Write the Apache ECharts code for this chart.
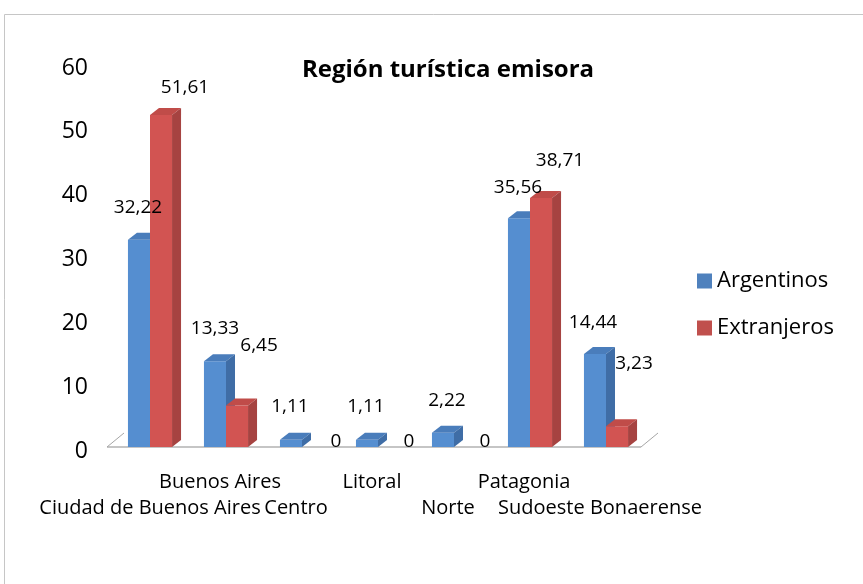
<!DOCTYPE html>
<html>
<head>
<meta charset="utf-8">
<script src="https://cdn.jsdelivr.net/npm/echarts@6/dist/echarts.min.js"></script>
<style>
html,body{margin:0;padding:0;background:#fff;}
#c{width:863px;height:584px;}
</style>
</head>
<body>
<div id="c"></div>
<script>
// ---- data ----
const categories = ['Ciudad de Buenos Aires', 'Buenos Aires', 'Centro', 'Litoral', 'Norte', 'Patagonia', 'Sudoeste Bonaerense'];
const argentinos = [32.22, 13.33, 1.11, 1.11, 2.22, 35.56, 14.44];
const extranjeros = [51.61, 6.45, 0, 0, 0, 38.71, 3.23];
const seriesNames = ['Argentinos', 'Extranjeros'];
const titleText = 'Región turística emisora';
const yMin = 0, yMax = 60, yStep = 10;

// ---- layout tweaks for data labels (relative nudges, px) ----
const argLabelDx = [-1, 0, -1, -1, 4, -1, -2];
const argLabelDy = [-32, -33, -33, -33, -32, -31, -32];
const extLabelDx = [24, 22, 23, 20, 20, 19, 17];
const extLabelDy = [-27, -60, -5, -5, -5, -37, -63];

const FONT = '"Open Sans", Lato, sans-serif';
const DX = 9, DY = -7;
const pal = [
  {front: '#558ed0', top: '#4a7dbb', side: '#3f6da6', legend: '#4f81bd'},
  {front: '#d25452', top: '#c04c49', side: '#a64341', legend: '#c0504d'}
];

function fmt(v) { return String(v).replace('.', ','); }

function makeRender(si, dxs, dys) {
  return function (params, api) {
    const cat = api.value(0), v = api.value(1);
    const base = api.coord([cat, 0]);
    const top = api.coord([cat, v]);
    const band = api.size([1, 0])[0];
    const w = band * 0.29;
    const x0 = base[0] + (si === 0 ? -w : 0);
    const x1 = x0 + w;
    const yb = base[1], yt = top[1];
    const c = pal[si];
    const children = [];
    if (v > 0) {
      children.push({type: 'rect', shape: {x: x0, y: yt, width: w, height: yb - yt}, style: {fill: c.front}});
      children.push({type: 'polygon', shape: {points: [[x0, yt], [x0 + DX, yt + DY], [x1 + DX, yt + DY], [x1, yt]]}, style: {fill: c.top}});
      children.push({type: 'polygon', shape: {points: [[x1, yt], [x1 + DX, yt + DY], [x1 + DX, yb + DY], [x1, yb]]}, style: {fill: c.side}});
    }
    const i = params.dataIndex;
    children.push({
      type: 'text', z2: 100,
      style: {
        text: fmt(v), x: (x0 + x1) / 2 + dxs[i], y: yt + dys[i],
        align: 'center', verticalAlign: 'middle',
        font: '19px ' + FONT, fill: '#000'
      }
    });
    return {type: 'group', children: children};
  };
}

const chart = echarts.init(document.getElementById('c'), null, {renderer: 'canvas'});
const option = {
  backgroundColor: '#fff',
  animation: false,
  title: {
    text: titleText, left: 443, top: 53, textAlign: 'center',
    textStyle: {fontFamily: FONT, fontSize: 24, fontWeight: 'bold', color: '#000'}
  },
  legend: {
    orient: 'vertical', left: 692, top: 265, itemGap: 25,
    itemWidth: 15, itemHeight: 15, icon: 'rect',
    textStyle: {fontFamily: FONT, fontSize: 22, color: '#000'},
    data: seriesNames
  },
  grid: [
    {left: 112, right: 219, top: 61, bottom: 137},
    {left: 112, right: 219, top: 68, bottom: 133}
  ],
  xAxis: [
    {
      type: 'category', data: categories, gridIndex: 0,
      axisLine: {show: false}, axisTick: {show: false},
      axisLabel: {
        interval: 0, margin: 22, lineHeight: 26,
        fontFamily: FONT, fontSize: 20, color: '#000',
        rich: {
          p: {fontFamily: FONT, fontSize: 20, color: '#000', lineHeight: 26, padding: [0, 12, 0, 0]}
        },
        formatter: function (v, i) {
          const t = i === 0 ? v : '{p|' + v + '}';
          return i % 2 === 1 ? t + '\n ' : ' \n' + t;
        }
      }
    },
    {type: 'category', data: categories, gridIndex: 1, show: false}
  ],
  yAxis: [
    {type: 'value', gridIndex: 0, min: yMin, max: yMax, interval: yStep, show: false},
    {
      type: 'value', gridIndex: 1, min: yMin, max: yMax, interval: yStep,
      axisLine: {show: false}, axisTick: {show: false}, splitLine: {show: false},
      axisLabel: {margin: 24, fontFamily: FONT, fontSize: 23, color: '#000'}
    }
  ],
  series: [
    {
      type: 'custom', name: 'floor', xAxisIndex: 0, yAxisIndex: 0, silent: true, z: 1,
      data: [[0, 0]],
      renderItem: function (params, api) {
        const p = api.coord([0, 0]);
        const band = api.size([1, 0])[0];
        const l = p[0] - band / 2 - 5;
        const r = p[0] - band / 2 + band * categories.length - 3;
        const y = p[1];
        return {type: 'group', children: [
          {type: 'line', shape: {x1: l, y1: y, x2: r, y2: y}, style: {stroke: '#8c8c8c', lineWidth: 1.2}},
          {type: 'line', shape: {x1: l, y1: y, x2: l + 17, y2: y - 14}, style: {stroke: '#a6a6a6', lineWidth: 1}},
          {type: 'line', shape: {x1: r, y1: y, x2: r + 17, y2: y - 14}, style: {stroke: '#a6a6a6', lineWidth: 1}}
        ]};
      },
      encode: {x: 0, y: 1}
    },
    {
      type: 'custom', name: seriesNames[0], xAxisIndex: 0, yAxisIndex: 0, z: 2,
      itemStyle: {color: pal[0].legend},
      data: argentinos.map((v, i) => [i, v]),
      renderItem: makeRender(0, argLabelDx, argLabelDy),
      encode: {x: 0, y: 1}
    },
    {
      type: 'custom', name: seriesNames[1], xAxisIndex: 0, yAxisIndex: 0, z: 2,
      itemStyle: {color: pal[1].legend},
      data: extranjeros.map((v, i) => [i, v]),
      renderItem: makeRender(1, extLabelDx, extLabelDy),
      encode: {x: 0, y: 1}
    }
  ],
  graphic: [
    {type: 'polyline', silent: true, shape: {points: [[4.5, 584], [4.5, 14.5], [863, 14.5]]}, style: {stroke: '#c6c6c6', lineWidth: 1, fill: null}}
  ]
};
chart.setOption(option);
</script>
</body>
</html>
